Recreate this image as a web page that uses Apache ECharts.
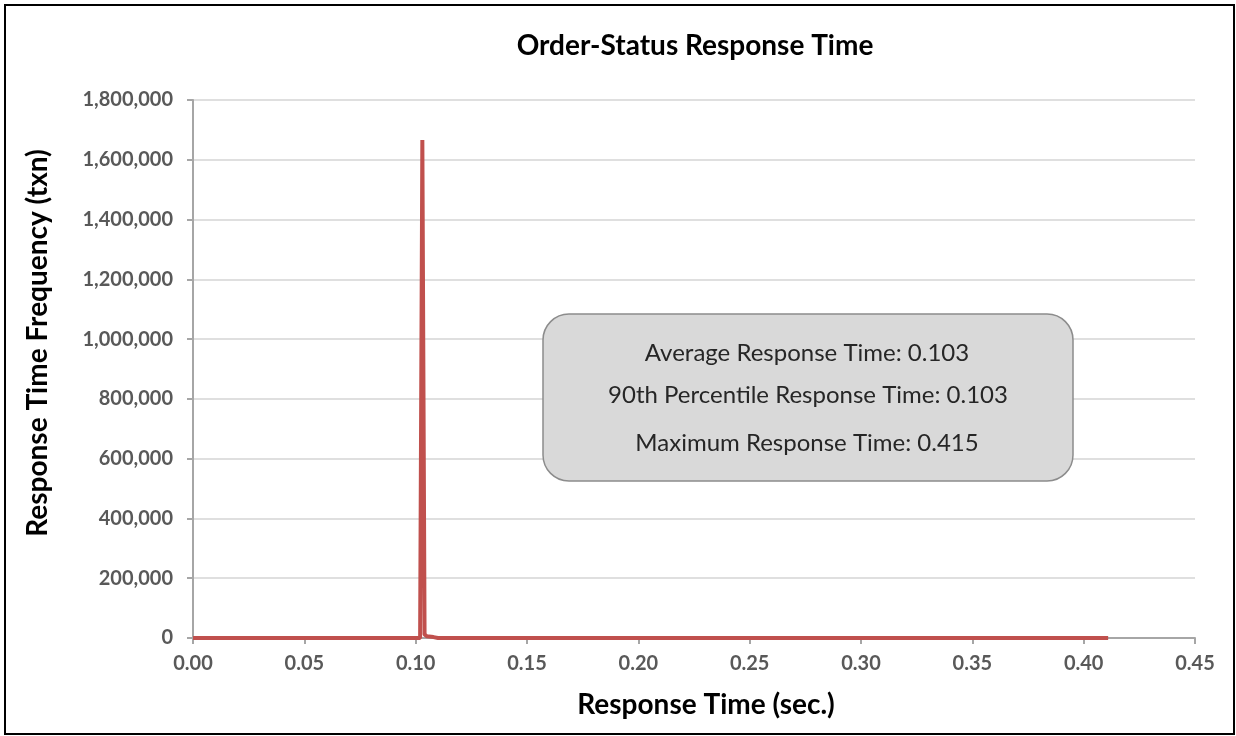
<!DOCTYPE html>
<html>
<head>
<meta charset="utf-8">
<script src="https://cdn.jsdelivr.net/npm/echarts@6/dist/echarts.min.js"></script>
<style>
  html, body { margin: 0; padding: 0; background: #fff; }
  #chart { width: 1236px; height: 736px; }
</style>
</head>
<body>
<div id="chart"></div>
<script>
// response time (sec.) and transaction counts
const respTime = [0, 0.102, 0.103, 0.104, 0.105, 0.108, 0.110, 0.411]
const frequency = [0, 0, 1666000, 12000, 6000, 3000, 0, 0]
const statLines = [
  'Average Response Time: 0.103',
  '90th Percentile Response Time: 0.103',
  'Maximum Response Time: 0.415'
]

const font = 'Lato, "Open Sans", sans-serif'
const axisGray = '#a6a6a6'
const labelGray = '#595959'

const myEcharts = echarts.init(document.getElementById('chart'))

myEcharts.setOption({
  animation: false,
  grid: {
    left: 193,
    right: 41,
    top: 100,
    bottom: 98
  },
  xAxis: {
    type: 'value',
    min: 0,
    max: 0.45,
    interval: 0.05,
    axisLine: { show: true, lineStyle: { color: axisGray, width: 2 } },
    axisTick: { show: true, length: 6, lineStyle: { color: axisGray, width: 2 } },
    splitLine: { show: false },
    axisLabel: {
      margin: 16,
      color: labelGray,
      fontFamily: font,
      fontWeight: 'bold',
      fontSize: 20,
      formatter: (v) => v.toFixed(2)
    }
  },
  yAxis: {
    type: 'value',
    min: 0,
    max: 1800000,
    interval: 200000,
    axisLine: { show: true, lineStyle: { color: axisGray, width: 2 } },
    axisTick: { show: true, length: 6, lineStyle: { color: axisGray, width: 2 } },
    splitLine: { show: true, lineStyle: { color: '#d4d4d4', width: 1.5 } },
    axisLabel: {
      margin: 20,
      color: labelGray,
      fontFamily: font,
      fontWeight: 'bold',
      fontSize: 20,
      formatter: (v) => v.toLocaleString('en-US')
    }
  },
  series: [
    {
      type: 'line',
      data: respTime.map((t, i) => [t, frequency[i]]),
      showSymbol: false,
      lineStyle: { color: '#c0504d', width: 4 },
      z: 5
    }
  ],
  graphic: [
    // outer frame
    {
      type: 'rect',
      shape: { x: 5, y: 5, width: 1229, height: 729 },
      style: { fill: 'none', stroke: '#000', lineWidth: 2 },
      silent: true
    },
    {
      type: 'text',
      x: 695,
      y: 46,
      style: {
        text: 'Order-Status Response Time',
        fill: '#000',
        font: 'bold 28px ' + font,
        align: 'center',
        verticalAlign: 'middle'
      }
    },
    {
      type: 'text',
      x: 706,
      y: 705,
      style: {
        text: 'Response Time (sec.)',
        fill: '#000',
        font: 'bold 28px ' + font,
        align: 'center',
        verticalAlign: 'middle'
      }
    },
    {
      type: 'text',
      x: 38,
      y: 343,
      rotation: Math.PI / 2,
      style: {
        text: 'Response Time Frequency (txn)',
        fill: '#000',
        font: 'bold 28px ' + font,
        align: 'center',
        verticalAlign: 'middle'
      }
    },
    // stats box
    {
      type: 'rect',
      shape: { x: 543, y: 314, width: 530, height: 167, r: 26 },
      style: { fill: '#d9d9d9', stroke: '#8c8c8c', lineWidth: 1.5 },
      z: 10
    },
    {
      type: 'text',
      x: 807,
      y: 353,
      z: 11,
      style: { text: statLines[0], fill: '#262626', font: '24px ' + font, align: 'center', verticalAlign: 'middle' }
    },
    {
      type: 'text',
      x: 808,
      y: 395,
      z: 11,
      style: { text: statLines[1], fill: '#262626', font: '24px ' + font, align: 'center', verticalAlign: 'middle' }
    },
    {
      type: 'text',
      x: 807,
      y: 443,
      z: 11,
      style: { text: statLines[2], fill: '#262626', font: '24px ' + font, align: 'center', verticalAlign: 'middle' }
    }
  ]
})
</script>
</body>
</html>
